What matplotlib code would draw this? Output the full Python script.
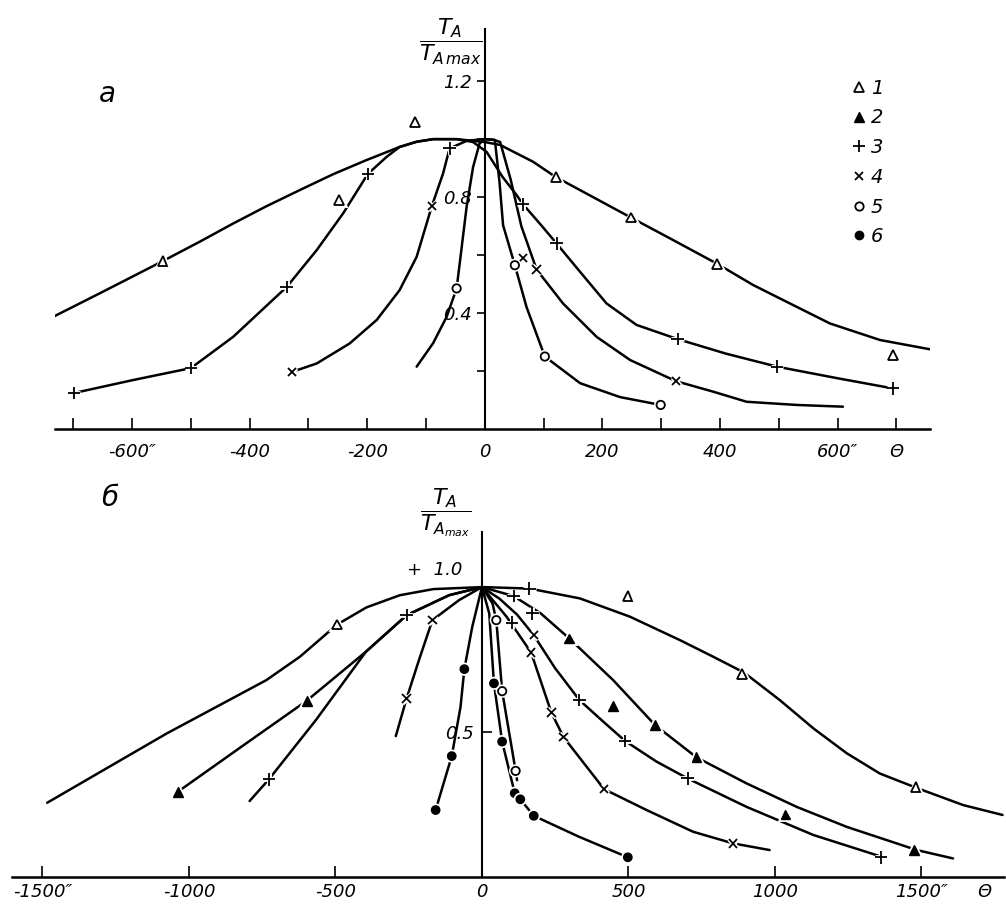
import matplotlib
matplotlib.use("Agg")
import matplotlib.pyplot as plt
import matplotlib.patheffects as pe
from matplotlib.lines import Line2D

# ---- panel a (top): x in arc seconds, y = T_A / T_A max ----
a1_x = [-741, -655, -547, -485, -428, -371, -315, -258, -201, -145, -116, -88, -48, 0, 26, 82, 120,
        184, 248, 320, 395, 456, 513, 587, 672, 757]
a1_y = [0.38, 0.468, 0.58, 0.646, 0.709, 0.769, 0.824, 0.879, 0.928, 0.973, 0.991, 1.0, 1.0, 0.99, 0.98, 0.922, 0.87,
        0.80, 0.73, 0.652, 0.57, 0.497, 0.439, 0.364, 0.307, 0.275]
a1_mx = [-548, -248, -119, 121, 248, 395, 694]
a1_my = [0.58, 0.79, 1.06, 0.87, 0.73, 0.57, 0.255]

a3_x = [-699, -598, -500, -428, -337, -286, -241, -199, -167, -145, -116, -88, -48, -20, 3, 30, 54, 65, 95, 122,
        162, 207, 258, 328, 410, 497, 600, 694]
a3_y = [0.124, 0.169, 0.21, 0.318, 0.49, 0.617, 0.744, 0.88, 0.939, 0.973, 0.991, 1.0, 1.0, 0.99, 0.956, 0.87, 0.807, 0.775, 0.705, 0.64,
        0.542, 0.433, 0.359, 0.31, 0.26, 0.215, 0.175, 0.14]
a3_mx = [-699, -500, -337, -199, -60, 65, 122, 328, 497, 694]
a3_my = [0.124, 0.21, 0.49, 0.88, 0.968, 0.775, 0.64, 0.31, 0.215, 0.14]

a4_x = [-328, -286, -230, -184, -145, -116, -90, -71, -60, -30, 0, 15, 26, 44, 62, 88, 133, 190, 247, 325,
        388, 445, 530, 609]
a4_y = [0.197, 0.226, 0.295, 0.376, 0.479, 0.594, 0.77, 0.882, 0.968, 0.995, 1.0, 0.998, 0.99, 0.86, 0.70, 0.55,
        0.433, 0.318, 0.238, 0.165, 0.129, 0.094, 0.083, 0.077]
a4_mx = [-328, -90, 65, 88, 325]
a4_my = [0.197, 0.77, 0.59, 0.55, 0.165]

a5_x = [-116, -88, -65, -48, -40, -31, -20, -9, 0, 17, 25, 31, 51, 71, 102, 162, 230, 299]
a5_y = [0.215, 0.296, 0.387, 0.485, 0.617, 0.767, 0.904, 0.985, 1.0, 0.997, 0.85, 0.703, 0.565, 0.42, 0.25, 0.158, 0.11, 0.083]
a5_mx = [-48, 51, 102, 299]
a5_my = [0.485, 0.565, 0.25, 0.083]

# ---- panel b (bottom) ----
b1_x = [-1484, -1281, -1076, -906, -736, -621, -494, -394, -280, -166, 0, 162, 334, 505, 676, 789, 895,
        1017, 1131, 1245, 1358, 1487, 1643, 1777]
b1_y = [0.256, 0.375, 0.495, 0.587, 0.679, 0.760, 0.871, 0.930, 0.972, 0.993, 1.0, 0.995, 0.961, 0.898, 0.817, 0.760, 0.705,
        0.610, 0.513, 0.427, 0.357, 0.306, 0.248, 0.214]
b1_mx = [-494, 497, 888, 1480]
b1_my = [0.871, 0.97, 0.70, 0.31]

b2_x = [-1038, -820, -598, -396, -257, -112, 0, 108, 200, 298, 448, 591, 732, 903, 1074, 1245, 1484, 1608]
b2_y = [0.294, 0.45, 0.608, 0.777, 0.903, 0.972, 1.0, 0.969, 0.91, 0.823, 0.679, 0.524, 0.413, 0.323, 0.242, 0.173, 0.093, 0.064]
b2_mx = [-1038, -598, 298, 447, 591, 732, 1036, 1475]
b2_my = [0.294, 0.608, 0.823, 0.59, 0.524, 0.413, 0.216, 0.093]

b3_x = [-793, -727, -567, -396, -257, -112, 0, 60, 120, 177, 250, 333, 414, 489, 596, 702, 903, 1131, 1370]
b3_y = [0.262, 0.337, 0.541, 0.777, 0.903, 0.972, 1.0, 0.96, 0.905, 0.834, 0.72, 0.61, 0.536, 0.469, 0.398, 0.34, 0.242, 0.145, 0.068]
b3_mx = [-727, -257, 108, 162, 172, 103, 333, 489, 702, 1362]
b3_my = [0.337, 0.903, 0.969, 0.995, 0.909, 0.877, 0.61, 0.469, 0.34, 0.068]

b4_x = [-294, -257, -215, -169, -78, 0, 84, 168, 237, 279, 417, 562, 721, 857, 982]
b4_y = [0.486, 0.616, 0.748, 0.886, 0.955, 1.0, 0.898, 0.774, 0.567, 0.482, 0.303, 0.231, 0.156, 0.116, 0.093]
b4_mx = [-257, -169, 177, 168, 237, 279, 417, 857]
b4_my = [0.616, 0.886, 0.834, 0.774, 0.567, 0.482, 0.303, 0.116]

b5_x = [0, 36, 49, 69, 115, 120]
b5_y = [1.0, 0.944, 0.886, 0.641, 0.366, 0.334]
b5_mx = [49, 69, 115]
b5_my = [0.886, 0.641, 0.366]

b6_x = [-158, -103, -73, -60, -33, 0, 25, 41, 69, 112, 131, 177, 331, 498]
b6_y = [0.231, 0.417, 0.587, 0.717, 0.863, 1.0, 0.909, 0.668, 0.467, 0.289, 0.268, 0.211, 0.139, 0.068]
b6_mx = [-158, -103, -60, 41, 69, 112, 131, 177, 498]
b6_my = [0.231, 0.417, 0.717, 0.668, 0.467, 0.289, 0.268, 0.211, 0.068]

legend_labels = ["1", "2", "3", "4", "5", "6"]

W, H = 1006, 911
fig = plt.figure(figsize=(W / 100, H / 100), dpi=100)
fig.patch.set_facecolor("white")

styles = {
    1: dict(marker="^", ms=7, mfc="white", mec="black", mew=1.3),
    2: dict(marker="^", ms=7, mfc="black", mec="black", mew=1.0),
    3: dict(marker="+", ms=9, mec="black", mew=1.3),
    4: dict(marker="x", ms=6, mec="black", mew=1.3),
    5: dict(marker="o", ms=6, mfc="white", mec="black", mew=1.3),
    6: dict(marker="o", ms=6, mfc="black", mec="black", mew=1.0),
}
tfont = dict(style="italic", fontsize=13)
halo = [pe.withStroke(linewidth=3.5, foreground="white")]


def setup(ax):
    for s in ["top", "right"]:
        ax.spines[s].set_visible(False)
    ax.spines["left"].set_position(("data", 0))
    ax.spines["bottom"].set_position(("data", 0))
    ax.spines["left"].set_linewidth(1.5)
    ax.spines["bottom"].set_linewidth(1.8)
    ax.patch.set_alpha(0)


def curve(ax, x, y, mx, my, k):
    ax.plot(x, y, color="black", lw=1.8, solid_capstyle="round", solid_joinstyle="round", zorder=2)
    ax.plot(mx, my, ls="none", zorder=3, path_effects=halo, **styles[k])


# ---------- top panel ----------
ax1 = fig.add_axes([55 / W, 1 - 429 / H, 875 / W, 400 / H])
setup(ax1)
ax1.set_xlim(-731, 757)
ax1.set_ylim(0, 1.38)
curve(ax1, a1_x, a1_y, a1_mx, a1_my, 1)
curve(ax1, a3_x, a3_y, a3_mx, a3_my, 3)
curve(ax1, a4_x, a4_y, a4_mx, a4_my, 4)
curve(ax1, a5_x, a5_y, a5_mx, a5_my, 5)

xt = list(range(-700, 701, 100))
xl = []
for v in xt:
    if v == 700:
        xl.append("Θ")
    elif abs(v) == 600:
        xl.append(f"{v}″")
    elif v % 200 == 0:
        xl.append(str(v))
    else:
        xl.append("")
ax1.set_xticks(xt)
ax1.set_xticklabels(xl, **tfont)
ax1.tick_params(axis="x", direction="in", length=8, width=1.2, pad=10)
ax1.set_yticks([0.2, 0.4, 0.6, 0.8, 1.0, 1.2])
ax1.set_yticklabels(["", "0.4", "", "0.8", "", "1.2"], **tfont)
ax1.tick_params(axis="y", direction="out", length=6, width=1.2, pad=3)

handles = [Line2D([], [], ls="none", **styles[k]) for k in range(1, 7)]
ax1.legend(handles, legend_labels, loc="upper left", bbox_to_anchor=(0.9, 0.9),
           frameon=False, handlelength=0.7, handletextpad=0.25, labelspacing=0.55,
           prop=dict(style="italic", size=14), borderpad=0)

fig.text(451 / W, 1 - 42 / H, r"$\dfrac{T_A}{T_{A\,max}}$", ha="center", va="center", fontsize=16)
fig.text(107 / W, 1 - 94 / H, "а", ha="center", va="center", style="italic", fontsize=20)

# ---------- bottom panel ----------
ax2 = fig.add_axes([12 / W, 1 - 877 / H, 992 / W, 345 / H])
setup(ax2)
ax2.set_xlim(-1604, 1782)
ax2.set_ylim(0, 1.19)
curve(ax2, b1_x, b1_y, b1_mx, b1_my, 1)
curve(ax2, b2_x, b2_y, b2_mx, b2_my, 2)
curve(ax2, b3_x, b3_y, b3_mx, b3_my, 3)
curve(ax2, b4_x, b4_y, b4_mx, b4_my, 4)
curve(ax2, b5_x, b5_y, b5_mx, b5_my, 5)
curve(ax2, b6_x, b6_y, b6_mx, b6_my, 6)

bt = [-1500, -1000, -500, 0, 500, 1000, 1500]
bl = ["-1500″", "-1000", "-500", "0", "500", "1000", "1500″"]
ax2.set_xticks(bt + [1717])
ax2.set_xticklabels(bl + ["Θ"], **tfont)
ax2.tick_params(axis="x", direction="in", length=8, width=1.2, pad=4)
ax2.xaxis.get_major_ticks()[-1].tick1line.set_visible(False)
ax2.set_yticks([0.5, 1.0])
ax2.set_yticklabels(["0.5", ""], **tfont)
ax2.tick_params(axis="y", direction="in", length=7, width=1.2, pad=6)
fig.text(462 / W, 1 - 570 / H, "+  1.0", ha="right", va="center", **tfont)

fig.text(446 / W, 1 - 513 / H, r"$\dfrac{T_A}{T_{A_{max}}}$", ha="center", va="center", fontsize=16)
fig.text(110 / W, 1 - 498 / H, "б", ha="center", va="center", style="italic", fontsize=20)

fig.savefig("out.png", dpi=100, facecolor="white")
